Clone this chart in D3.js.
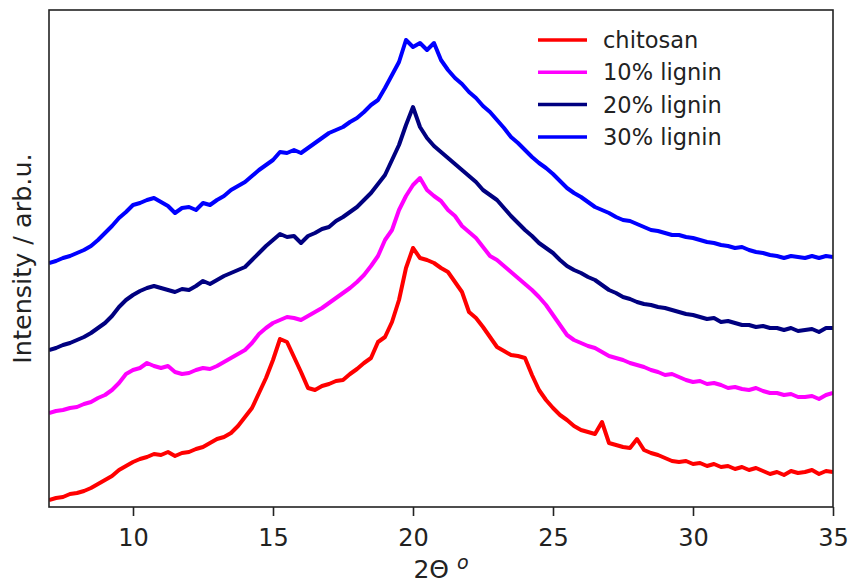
<!DOCTYPE html>
<html>
<head>
<meta charset="utf-8">
<script src="https://cdn.jsdelivr.net/npm/d3@7"></script>
<style>
  body { margin: 0; background: #fff; }
  svg text { font-family: "DejaVu Sans", sans-serif; fill: #222; }
</style>
</head>
<body>
<div id="chart"></div>
<script>
// 2-theta grid, 7 to 35 deg in 0.25 deg steps
var twoTheta = d3.range(7, 35.001, 0.25);

var seriesNames = ["chitosan", "10% lignin", "20% lignin", "30% lignin"];
var seriesColors = ["#ff0000", "#ff00ff", "#000080", "#0000ff"];

// intensities (arb. u.)
var chitosan = [
  7, 9, 10, 13, 14, 16, 19, 23, 27, 31,
  37, 41, 45, 48, 50, 53, 52, 55, 51, 54,
  55, 58, 60, 64, 68, 70, 74, 81, 90, 99,
  114, 129, 147, 168, 165, 150, 135, 119, 117, 121,
  123, 126, 127, 133, 138, 144, 149, 165, 170, 185,
  207, 239, 259, 249, 247, 244, 239, 235, 225, 215,
  195, 189, 180, 170, 160, 156, 152, 151, 149, 132,
  117, 107, 99, 92, 87, 81, 77, 75, 73, 85,
  64, 62, 60, 59, 68, 57, 54, 52, 49, 46,
  45, 46, 43, 44, 41, 43, 40, 41, 38, 40,
  37, 39, 36, 33, 35, 32, 36, 34, 35, 37,
  33, 36, 35
];
var lignin10 = [
  94, 96, 97, 99, 100, 103, 105, 109, 112, 117,
  124, 133, 137, 139, 144, 141, 139, 141, 135, 133,
  134, 137, 139, 138, 141, 145, 149, 153, 157, 164,
  173, 179, 184, 187, 190, 189, 187, 191, 195, 199,
  204, 209, 214, 219, 225, 232, 241, 251, 267, 277,
  297, 311, 322, 329, 317, 311, 306, 297, 291, 281,
  275, 269, 260, 251, 247, 241, 235, 229, 223, 217,
  210, 202, 192, 182, 172, 167, 164, 161, 159, 155,
  151, 149, 147, 144, 142, 140, 137, 135, 132, 133,
  130, 127, 125, 126, 123, 124, 122, 119, 120, 118,
  117, 119, 116, 114, 114, 112, 113, 110, 110, 111,
  108, 112, 114
];
var lignin20 = [
  157, 159, 162, 164, 167, 170, 174, 179, 184, 191,
  200, 207, 212, 216, 219, 221, 219, 217, 215, 218,
  217, 221, 226, 223, 227, 231, 234, 237, 240, 247,
  254, 261, 267, 273, 270, 271, 264, 271, 274, 278,
  280, 286, 290, 295, 300, 307, 314, 323, 332, 347,
  362, 382, 400, 380, 369, 361, 355, 349, 343, 337,
  331, 325, 317, 312, 307, 299, 291, 284, 277, 271,
  264, 259, 254, 247, 241, 237, 234, 230, 227, 222,
  217, 214, 210, 208, 205, 203, 202, 200, 199, 197,
  195, 193, 192, 190, 188, 189, 185, 186, 184, 182,
  182, 180, 181, 179, 179, 177, 179, 176, 177, 178,
  175, 179, 179
];
var lignin30 = [
  244, 246, 249, 251, 254, 257, 261, 267, 274, 281,
  289, 295, 302, 304, 307, 309, 305, 301, 294, 299,
  300, 297, 304, 302, 307, 311, 317, 321, 325, 331,
  337, 342, 347, 355, 354, 357, 354, 359, 364, 369,
  374, 377, 380, 385, 389, 395, 402, 407, 419, 432,
  445, 467, 460, 464, 457, 464, 447, 437, 429, 423,
  415, 409, 401, 395, 387, 379, 370, 364, 357, 350,
  344, 339, 333, 326, 319, 314, 310, 305, 300, 297,
  294, 290, 287, 286, 283, 280, 277, 276, 274, 272,
  272, 270, 269, 267, 265, 264, 262, 261, 259, 260,
  257, 255, 254, 252, 251, 249, 251, 250, 249, 251,
  249, 251, 250
];
var xTicks = [10, 15, 20, 25, 30, 35];

var allSeries = [chitosan, lignin10, lignin20, lignin30];

var W = 849, H = 585;
var margin = {left: 49, top: 10, right: 16, bottom: 78};

var svg = d3.select("#chart").append("svg")
    .attr("width", W).attr("height", H);

var x = d3.scaleLinear().domain([7, 35]).range([margin.left, W - margin.right]);
var y = d3.scaleLinear().domain([0, 497]).range([H - margin.bottom, margin.top]);

svg.append("clipPath").attr("id", "plotclip")
  .append("rect")
    .attr("x", margin.left).attr("y", margin.top)
    .attr("width", W - margin.left - margin.right)
    .attr("height", H - margin.top - margin.bottom);

var line = d3.line()
    .x(function(d, i) { return x(twoTheta[i]); })
    .y(function(d) { return y(d); });

svg.append("g").attr("clip-path", "url(#plotclip)")
  .selectAll("path")
  .data(allSeries)
  .enter().append("path")
    .attr("d", line)
    .attr("fill", "none")
    .attr("stroke", function(d, i) { return seriesColors[i]; })
    .attr("stroke-width", 4)
    .attr("stroke-linejoin", "round");

// frame
svg.append("rect")
    .attr("x", margin.left).attr("y", margin.top)
    .attr("width", W - margin.left - margin.right)
    .attr("height", H - margin.top - margin.bottom)
    .attr("fill", "none").attr("stroke", "#222").attr("stroke-width", 1.6);

// x axis
var xAxis = svg.append("g")
    .attr("transform", "translate(0," + (H - margin.bottom) + ")")
    .call(d3.axisBottom(x).tickValues(xTicks).tickSize(9).tickPadding(13));
xAxis.select(".domain").remove();
xAxis.selectAll("line").attr("stroke", "#222").attr("stroke-width", 1.6);
xAxis.selectAll("text").attr("font-size", 24).attr("fill", "#222")
    .style("font-family", "DejaVu Sans, sans-serif");

// axis labels
var xl = svg.append("text")
    .attr("x", (margin.left + W - margin.right) / 2)
    .attr("y", 578)
    .attr("text-anchor", "middle")
    .attr("font-size", 25);
xl.append("tspan").text("2\u0398 ");
xl.append("tspan").attr("font-style", "italic").attr("font-size", 19)
    .attr("dy", -9).text("o");

svg.append("text")
    .attr("transform", "translate(31," + ((margin.top + H - margin.bottom) / 2) + ") rotate(-90)")
    .attr("text-anchor", "middle")
    .attr("font-size", 25.5)
    .text("Intensity / arb.u.");

// legend
var legend = svg.append("g").selectAll("g")
  .data(seriesNames)
  .enter().append("g")
    .attr("transform", function(d, i) { return "translate(538," + (40 + i * 32.3) + ")"; });
legend.append("line")
    .attr("x1", 0).attr("x2", 49)
    .attr("stroke", function(d, i) { return seriesColors[i]; })
    .attr("stroke-width", 3.5);
legend.append("text")
    .attr("x", 65).attr("dy", "0.36em")
    .attr("font-size", 22.5)
    .text(function(d) { return d; });
</script>
</body>
</html>
